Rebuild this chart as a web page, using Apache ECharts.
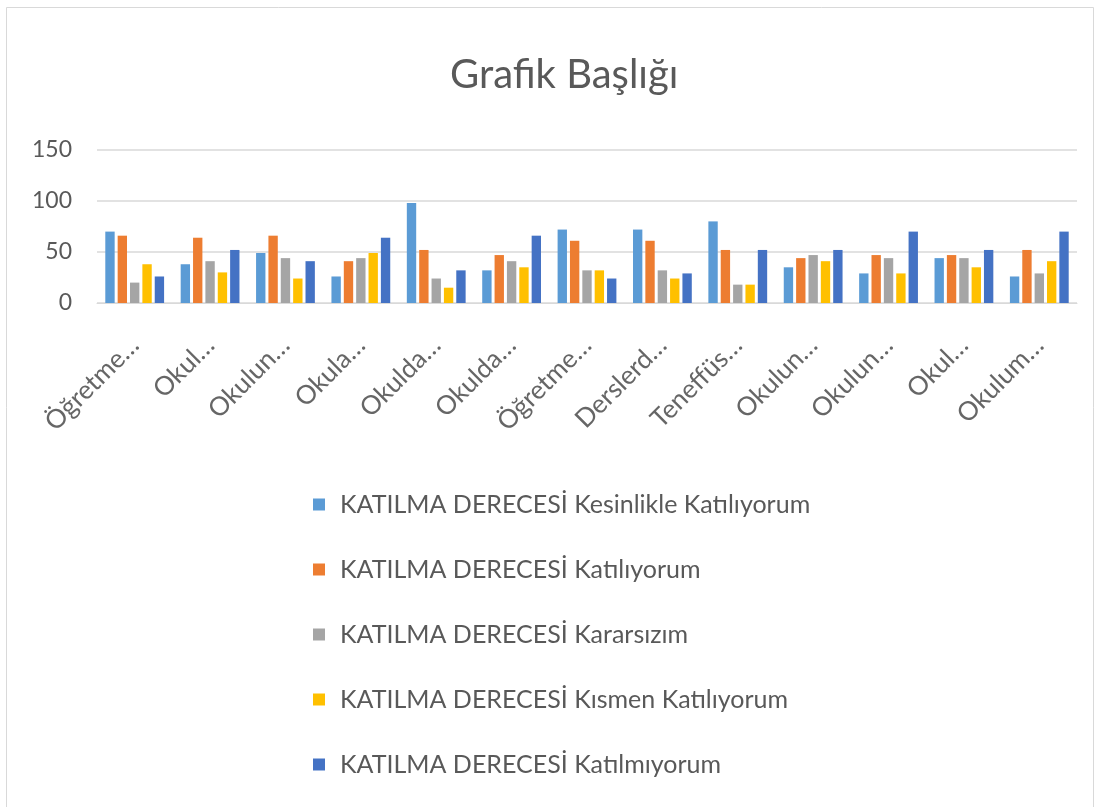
<!DOCTYPE html>
<html>
<head>
<meta charset="utf-8">
<script src="https://cdn.jsdelivr.net/npm/echarts@6/dist/echarts.min.js"></script>
<style>html,body{margin:0;padding:0;background:#fff}#c{width:1100px;height:807px}</style>
</head>
<body>
<div id="c"></div>
<script>
const categories = ["Öğretme…","Okul…","Okulun…","Okula…","Okulda…","Okulda…","Öğretme…","Derslerd…","Teneffüs…","Okulun…","Okulun…","Okul…","Okulum…"];
const seriesNames = [
  "KATILMA DERECESİ Kesinlikle Katılıyorum",
  "KATILMA DERECESİ Katılıyorum",
  "KATILMA DERECESİ Kararsızım",
  "KATILMA DERECESİ Kısmen Katılıyorum",
  "KATILMA DERECESİ Katılmıyorum"
];
const kesinlikleKatiliyorum = [70,38,49,26,98,32,72,72,80,35,29,44,26];
const katiliyorum           = [66,64,66,41,52,47,61,61,52,44,47,47,52];
const kararsizim            = [20,41,44,44,24,41,32,32,18,47,44,44,29];
const kismenKatiliyorum     = [38,30,24,49,15,35,32,24,18,41,29,35,41];
const katilmiyorum          = [26,52,41,64,32,66,24,29,52,52,70,52,70];
const yTicks = [0,50,100,150];
const colors = ["#5B9BD5","#ED7D31","#A5A5A5","#FFC000","#4472C4"];
const values = [kesinlikleKatiliyorum,katiliyorum,kararsizim,kismenKatiliyorum,katilmiyorum];

const chart = echarts.init(document.getElementById('c'));
chart.setOption({
  animation:false,
  backgroundColor:'#fff',
  color:colors,
  graphic:[{type:'rect',shape:{x:6.5,y:7.5,width:1087,height:805},style:{fill:'none',stroke:'#d9d9d9',lineWidth:1},silent:true}],
  title:{text:'Grafik Başlığı',left:445,top:50,textStyle:{fontFamily:'Lato',fontSize:40,fontWeight:'normal',color:'#595959'}},
  grid:{left:97,right:23,top:150,bottom:504,containLabel:false},
  xAxis:{type:'category',data:categories,
    axisLine:{show:true,lineStyle:{color:'#d9d9d9',width:1}},
    axisTick:{show:false},
    axisLabel:{rotate:45,interval:0,fontFamily:'Lato',fontSize:26,color:'#666666',margin:38}},
  yAxis:{type:'value',min:0,max:150,interval:50,
    axisLine:{show:false},axisTick:{show:false},
    splitLine:{lineStyle:{color:'#d9d9d9',width:1.5}},
    axisLabel:{fontFamily:'Lato',fontSize:23,color:'#595959',margin:25,formatter:v=>yTicks.includes(v)?String(v):''}},
  legend:{orient:'vertical',left:308,top:487,itemGap:40,itemWidth:12,itemHeight:12,icon:'rect',
    textStyle:{fontFamily:'Lato',fontSize:25,color:'#595959',padding:[0,0,0,10]},data:seriesNames},
  series:seriesNames.map((n,i)=>({name:n,type:'bar',data:values[i],barGap:'32%',barCategoryGap:'22%'}))
});
</script>
</body>
</html>
